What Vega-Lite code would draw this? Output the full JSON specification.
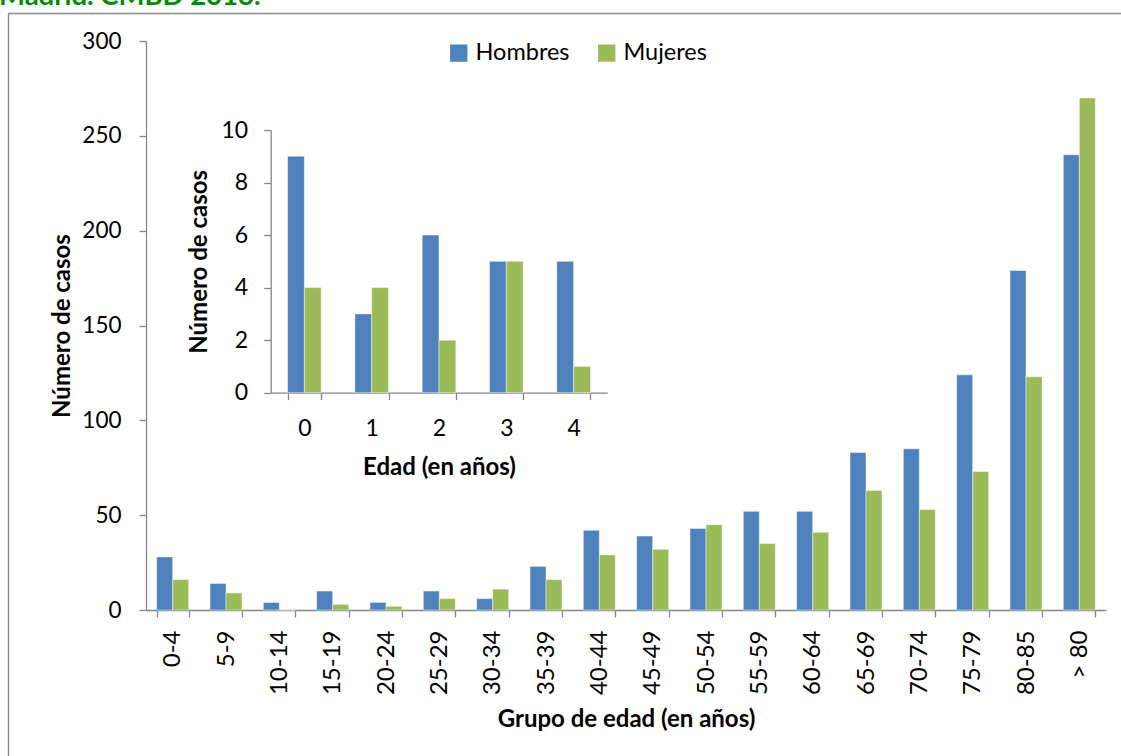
{
  "$schema": "https://vega.github.io/schema/vega-lite/v6.json",
  "autosize": {"type": "none"},
  "padding": {"left": 8, "top": 13, "right": 0, "bottom": 0},
  "width": 1113,
  "height": 743,
  "background": "white",
  "title": {
    "text": "Madrid. CMBD 2013.",
    "anchor": "start",
    "frame": "group",
    "orient": "top",
    "baseline": "alphabetic",
    "offset": 3,
    "dx": -9,
    "dy": 22.5,
    "color": "#008C00",
    "font": "Lato",
    "fontSize": 27.5,
    "fontWeight": "bold"
  },
  "config": {
    "font": "Lato",
    "view": {"stroke": null},
    "axis": {
      "grid": false,
      "domainColor": "#868686",
      "domainWidth": 1.3,
      "tickColor": "#868686",
      "tickWidth": 1.3,
      "tickSize": 7,
      "labelFont": "Lato",
      "labelFontSize": 22.5,
      "labelColor": "#000000",
      "titleFont": "Lato",
      "titleFontSize": 24,
      "titleFontWeight": "bold",
      "titleColor": "#000000"
    },
    "legend": {
      "labelFont": "Lato",
      "labelFontSize": 23.5,
      "labelColor": "#000000"
    }
  },
  "datasets": {
    "main": [
      {"grupo": "0-4", "sexo": "Hombres", "casos": 28}, {"grupo": "0-4", "sexo": "Mujeres", "casos": 16},
      {"grupo": "5-9", "sexo": "Hombres", "casos": 14}, {"grupo": "5-9", "sexo": "Mujeres", "casos": 9},
      {"grupo": "10-14", "sexo": "Hombres", "casos": 4}, {"grupo": "10-14", "sexo": "Mujeres", "casos": 0},
      {"grupo": "15-19", "sexo": "Hombres", "casos": 10}, {"grupo": "15-19", "sexo": "Mujeres", "casos": 3},
      {"grupo": "20-24", "sexo": "Hombres", "casos": 4}, {"grupo": "20-24", "sexo": "Mujeres", "casos": 2},
      {"grupo": "25-29", "sexo": "Hombres", "casos": 10}, {"grupo": "25-29", "sexo": "Mujeres", "casos": 6},
      {"grupo": "30-34", "sexo": "Hombres", "casos": 6}, {"grupo": "30-34", "sexo": "Mujeres", "casos": 11},
      {"grupo": "35-39", "sexo": "Hombres", "casos": 23}, {"grupo": "35-39", "sexo": "Mujeres", "casos": 16},
      {"grupo": "40-44", "sexo": "Hombres", "casos": 42}, {"grupo": "40-44", "sexo": "Mujeres", "casos": 29},
      {"grupo": "45-49", "sexo": "Hombres", "casos": 39}, {"grupo": "45-49", "sexo": "Mujeres", "casos": 32},
      {"grupo": "50-54", "sexo": "Hombres", "casos": 43}, {"grupo": "50-54", "sexo": "Mujeres", "casos": 45},
      {"grupo": "55-59", "sexo": "Hombres", "casos": 52}, {"grupo": "55-59", "sexo": "Mujeres", "casos": 35},
      {"grupo": "60-64", "sexo": "Hombres", "casos": 52}, {"grupo": "60-64", "sexo": "Mujeres", "casos": 41},
      {"grupo": "65-69", "sexo": "Hombres", "casos": 83}, {"grupo": "65-69", "sexo": "Mujeres", "casos": 63},
      {"grupo": "70-74", "sexo": "Hombres", "casos": 85}, {"grupo": "70-74", "sexo": "Mujeres", "casos": 53},
      {"grupo": "75-79", "sexo": "Hombres", "casos": 124}, {"grupo": "75-79", "sexo": "Mujeres", "casos": 73},
      {"grupo": "80-85", "sexo": "Hombres", "casos": 179}, {"grupo": "80-85", "sexo": "Mujeres", "casos": 123},
      {"grupo": "> 80", "sexo": "Hombres", "casos": 240}, {"grupo": "> 80", "sexo": "Mujeres", "casos": 270}
    ],
    "inset": [
      {"edad": "0", "sexo": "Hombres", "casos": 9}, {"edad": "0", "sexo": "Mujeres", "casos": 4},
      {"edad": "1", "sexo": "Hombres", "casos": 3}, {"edad": "1", "sexo": "Mujeres", "casos": 4},
      {"edad": "2", "sexo": "Hombres", "casos": 6}, {"edad": "2", "sexo": "Mujeres", "casos": 2},
      {"edad": "3", "sexo": "Hombres", "casos": 5}, {"edad": "3", "sexo": "Mujeres", "casos": 5},
      {"edad": "4", "sexo": "Hombres", "casos": 5}, {"edad": "4", "sexo": "Mujeres", "casos": 1}
    ]
  },
  "resolve": {
    "scale": {"x": "independent", "y": "independent", "xOffset": "independent"},
    "axis": {"x": "independent", "y": "independent"}
  },
  "layer": [
    {
      "data": {"name": "main"},
      "mark": {"type": "bar", "opacity": 0},
      "encoding": {
        "x": {
          "field": "grupo", "type": "nominal", "sort": null,
          "axis": {"orient": "top", "offset": 0, "title": null, "labels": false, "ticks": false, "domainColor": "#8a8a8a", "domainWidth": 1.4}
        },
        "y": {
          "field": "casos", "type": "quantitative",
          "axis": {"orient": "left", "offset": 0, "title": null, "labels": false, "ticks": false, "domainColor": "#8a8a8a", "domainWidth": 1.4}
        }
      }
    },
    {
      "data": {"name": "main"},
      "mark": {"type": "bar", "stroke": "#ffffff", "strokeWidth": 0.8, "strokeOpacity": 0.6},
      "encoding": {
        "x": {
          "field": "grupo", "type": "nominal", "sort": null,
          "scale": {"range": [138, 1098], "paddingInner": 0.4, "paddingOuter": 0.2},
          "axis": {
            "orient": "bottom", "offset": -146, "title": "Grupo de edad (en años)",
            "labelAngle": -90, "labelFontSize": 24, "labelPadding": 13, "titlePadding": 13, "tickBand": "extent"
          }
        },
        "xOffset": {"field": "sexo", "type": "nominal", "sort": ["Hombres", "Mujeres"], "scale": {"paddingInner": 0, "paddingOuter": 0}},
        "y": {
          "field": "casos", "type": "quantitative",
          "scale": {"domain": [0, 300], "range": [597, 28], "nice": false},
          "axis": {
            "orient": "left", "offset": -138, "title": "Número de casos",
            "values": [0, 50, 100, 150, 200, 250, 300], "labelPadding": 18, "titlePadding": 7
          }
        },
        "color": {
          "field": "sexo", "type": "nominal",
          "scale": {"domain": ["Hombres", "Mujeres"], "range": ["#4F81BD", "#9BBB59"]},
          "legend": {
            "title": null, "orient": "none", "legendX": 439, "legendY": 28, "direction": "horizontal",
            "symbolType": "square", "symbolSize": 300, "symbolStrokeWidth": 0, "labelOffset": 5,
            "columnPadding": 25, "padding": 0
          }
        }
      }
    },
    {
      "data": {"name": "inset"},
      "mark": {"type": "bar", "stroke": "#ffffff", "strokeWidth": 0.8, "strokeOpacity": 0.6},
      "encoding": {
        "x": {
          "field": "edad", "type": "nominal", "sort": null,
          "scale": {"range": [262.7, 599.3], "paddingInner": 0.5, "paddingOuter": 0.25},
          "axis": {
            "orient": "bottom", "offset": -363.3, "title": "Edad (en años)",
            "labelAngle": 0, "labelFontSize": 23, "labelPadding": 18, "titlePadding": 15, "tickBand": "extent"
          }
        },
        "xOffset": {"field": "sexo", "type": "nominal", "sort": ["Hombres", "Mujeres"], "scale": {"paddingInner": 0, "paddingOuter": 0}},
        "y": {
          "field": "casos", "type": "quantitative",
          "scale": {"domain": [0, 10], "range": [379.7, 117], "nice": false},
          "axis": {
            "orient": "left", "offset": -262.7, "title": "Número de casos",
            "values": [0, 2, 4, 6, 8, 10], "labelFontSize": 23, "labelPadding": 16, "titlePadding": 10
          }
        },
        "color": {"field": "sexo", "type": "nominal"}
      }
    }
  ]
}
